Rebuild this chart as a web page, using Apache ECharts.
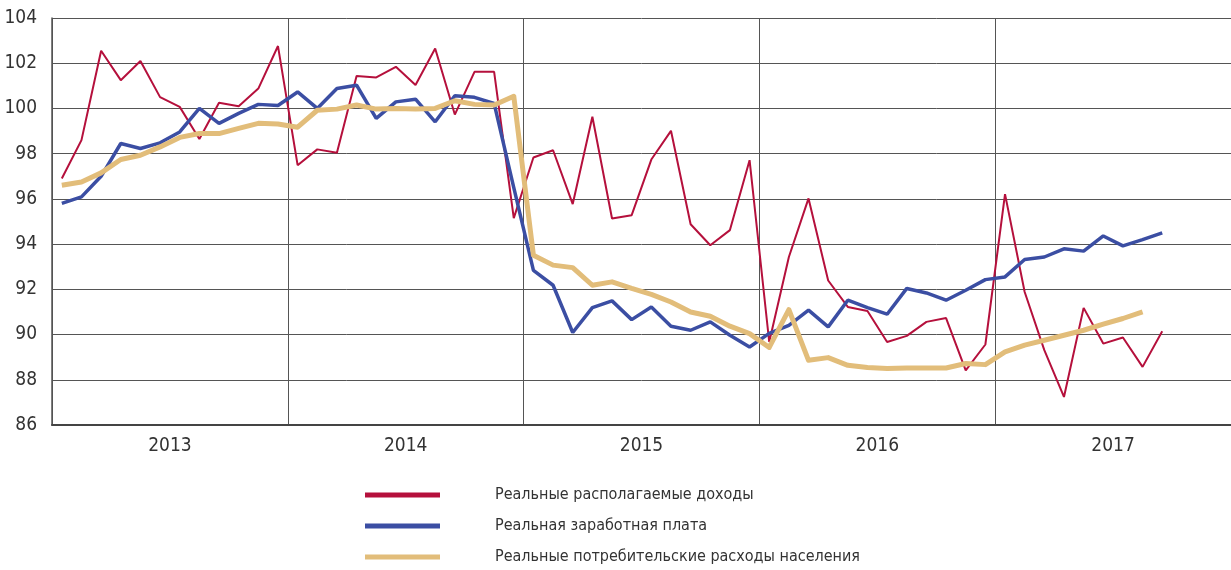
<!DOCTYPE html>
<html>
<head>
<meta charset="utf-8">
<script src="https://cdn.jsdelivr.net/npm/echarts@6/dist/echarts.min.js"></script>
<style>
  html, body { margin: 0; padding: 0; background: #fff; }
  #chart { width: 1231px; height: 570px; }
</style>
</head>
<body>
<div id="chart"></div>
<script>
// годы и месяцы (янв 2013 – дек 2017)
const years = ['2013', '2014', '2015', '2016', '2017']
const months = []
years.forEach(y => {
  for (let m = 1; m <= 12; m++) months.push(y + '-' + (m < 10 ? '0' + m : m))
})
const yTicks = [86, 88, 90, 92, 94, 96, 98, 100, 102, 104]

// Реальные располагаемые доходы
const income = [
  96.9, 98.6, 102.55, 101.25, 102.1, 100.5, 100.07, 98.65, 100.25, 100.1, 100.88, 102.76,
  97.49, 98.19, 98.04, 101.43, 101.37, 101.84, 101.04, 102.65, 99.73, 101.62, 101.62, 95.15,
  97.83, 98.15, 95.77, 99.63, 95.13, 95.28, 97.74, 99.01, 94.88, 93.95, 94.62, 97.71,
  89.67, 93.43, 96.02, 92.39, 91.22, 91.04, 89.67, 89.94, 90.56, 90.73, 88.42, 89.56,
  96.21, 91.88, 89.31, 87.24, 91.18, 89.6, 89.87, 88.57, 90.15
]
// Реальная заработная плата
const wages = [
  95.8, 96.09, 97.0, 98.45, 98.23, 98.48, 98.96, 100.0, 99.34, 99.78, 100.18, 100.13,
  100.73, 100.0, 100.88, 101.03, 99.56, 100.29, 100.41, 99.41, 100.56, 100.49, 100.22, 96.5,
  92.84, 92.18, 90.09, 91.19, 91.49, 90.66, 91.22, 90.37, 90.19, 90.56, 89.97, 89.45,
  90.05, 90.41, 91.08, 90.34, 91.52, 91.19, 90.9, 92.04, 91.84, 91.52, 91.96, 92.43,
  92.55, 93.32, 93.43, 93.79, 93.69, 94.36, 93.92, 94.2, 94.5
]
// Реальные потребительские расходы населения
const spending = [
  96.6, 96.75, 97.15, 97.74, 97.93, 98.3, 98.72, 98.89, 98.89, 99.12, 99.34, 99.31,
  99.17, 99.92, 99.97, 100.15, 99.97, 100.0, 99.97, 100.0, 100.34, 100.18, 100.15, 100.54,
  93.51, 93.07, 92.96, 92.18, 92.33, 92.04, 91.78, 91.44, 91.0, 90.81, 90.37, 90.04,
  89.43, 91.1, 88.86, 88.98, 88.64, 88.54, 88.5, 88.52, 88.52, 88.52, 88.72, 88.67,
  89.23, 89.53, 89.75, 89.97, 90.19, 90.46, 90.71, 91.0
]

const font = "'Liberation Sans Narrow', 'DejaVu Sans Condensed', sans-serif"
const gridColor = '#555'

const myChart = echarts.init(document.getElementById('chart'))
const option = {
  animation: false,
  textStyle: { fontFamily: font },
  grid: { left: 52, right: 0, top: 18, bottom: 145, containLabel: false },
  legend: {
    orient: 'vertical',
    left: 365,
    top: 485,
    padding: 0,
    icon: 'rect',
    itemWidth: 75,
    itemHeight: 5,
    itemGap: 11,
    textStyle: { fontFamily: font, fontSize: 16, lineHeight: 20, color: '#333', padding: [0, 0, 0, 50] },
    data: ['Реальные располагаемые доходы', 'Реальная заработная плата', 'Реальные потребительские расходы населения']
  },
  xAxis: [
    {
      type: 'category',
      data: months,
      boundaryGap: true,
      axisLine: { show: false },
      axisTick: { show: false },
      axisLabel: { show: false },
      splitLine: { show: false }
    },
    {
      type: 'category',
      data: years,
      position: 'bottom',
      boundaryGap: true,
      axisLine: { show: true, lineStyle: { color: '#444', width: 2 } },
      axisTick: { show: false },
      axisLabel: { fontFamily: font, fontSize: 19, color: '#333', margin: 12 },
      splitLine: { show: true, lineStyle: { color: gridColor, width: 1 } }
    }
  ],
  yAxis: {
    type: 'value',
    min: yTicks[0],
    max: yTicks[yTicks.length - 1],
    interval: 2,
    axisLine: { show: true, lineStyle: { color: gridColor, width: 1.5 } },
    axisTick: { show: false },
    axisLabel: { fontFamily: font, fontSize: 19, color: '#333', margin: 15 },
    splitLine: { lineStyle: { color: gridColor, width: 1 } }
  },
  series: [
    {
      name: 'Реальные располагаемые доходы',
      type: 'line',
      xAxisIndex: 0,
      data: income,
      showSymbol: false,
      color: '#b5103c',
      lineStyle: { width: 2, color: '#b5103c' },
      z: 2
    },
    {
      name: 'Реальная заработная плата',
      type: 'line',
      xAxisIndex: 0,
      data: wages,
      showSymbol: false,
      color: '#3b4ea3',
      lineStyle: { width: 3.5, color: '#3b4ea3' },
      z: 3
    },
    {
      name: 'Реальные потребительские расходы населения',
      type: 'line',
      xAxisIndex: 0,
      data: spending,
      showSymbol: false,
      color: '#e2bd7a',
      lineStyle: { width: 5, color: '#e2bd7a', join: 'round' },
      z: 4
    }
  ]
}
myChart.setOption(option)
</script>
</body>
</html>
